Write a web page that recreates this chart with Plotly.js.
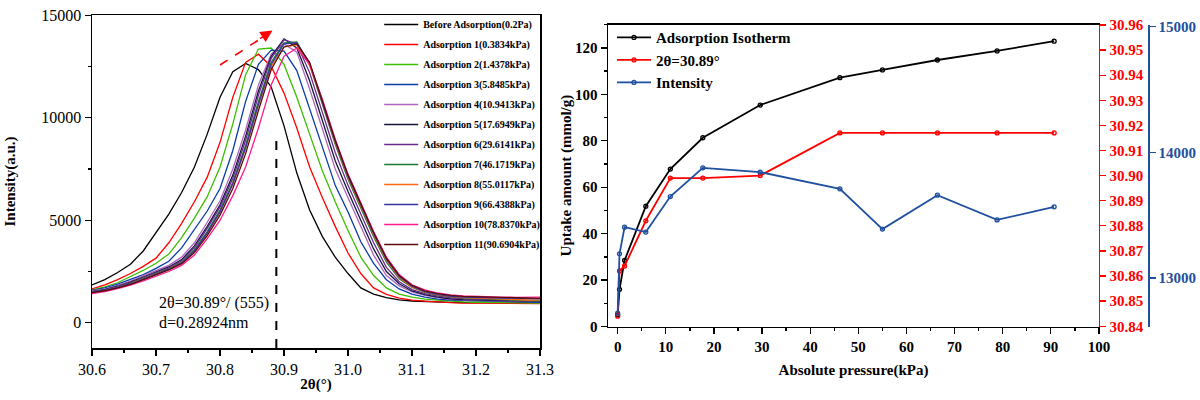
<!DOCTYPE html>
<html>
<head>
<meta charset="utf-8">
<script src="https://cdn.plot.ly/plotly-3.0.1.min.js"></script>
<style>html,body{margin:0;padding:0;background:#fff;}#chart{width:1200px;height:400px;}</style>
</head>
<body>
<div id="chart"></div>
<script>
// ---------- Left panel: XRD (555) peak ----------
const twoTheta = [30.60,30.62,30.64,30.66,30.68,30.70,30.72,30.74,30.76,30.78,30.80,30.82,30.84,30.86,30.88,30.90,30.92,30.94,30.96,30.98,31.00,31.02,31.04,31.06,31.08,31.10,31.12,31.14,31.16,31.18,31.20,31.22,31.24,31.26,31.28,31.30];

const beforeAds = [1850,2100,2450,2850,3500,4400,5300,6350,7600,9200,11000,12250,12650,12350,11500,9600,7300,5500,4200,3200,2400,1700,1400,1230,1120,1060,1030,1000,990,980,980,990,990,1000,1000,1010];
const ads1 = [1650,1850,2100,2400,2750,3150,3900,4850,5900,7100,8800,11000,12700,13100,12500,11200,9500,7600,6100,4700,3400,2400,1700,1380,1200,1100,1050,1000,980,960,950,950,940,930,920,930];
const ads2 = [1600,1750,1950,2250,2550,2900,3350,4150,5100,6150,7600,9700,12100,13350,13400,12600,11000,9200,7400,5900,4500,3200,2300,1700,1400,1250,1150,1100,1050,1020,1000,990,980,970,970,960];
const ads3 = [1580,1700,1880,2100,2350,2650,3000,3650,4550,5450,6550,8400,10800,12600,13300,13250,12300,10400,8500,6700,5400,3950,2900,2100,1650,1400,1250,1150,1100,1080,1060,1040,1020,1000,990,990];
const ads4 = [1550,1650,1820,2030,2300,2550,2800,3200,3900,4900,5950,7500,9400,11600,13100,13600,13200,11400,9400,7500,6100,4700,3300,2300,1800,1500,1330,1220,1150,1120,1100,1080,1060,1050,1040,1040];
const ads5 = [1520,1620,1780,1980,2230,2480,2720,3080,3750,4700,5750,7200,9100,11300,13000,13850,13400,11800,9800,7900,6400,5000,3600,2500,1900,1550,1370,1250,1170,1130,1110,1090,1070,1060,1050,1050];
const ads6 = [1500,1600,1760,1950,2200,2450,2680,3020,3650,4600,5650,7050,8900,11100,12900,13800,13600,12200,10300,8300,6700,5300,3900,2700,2000,1620,1420,1300,1220,1180,1150,1120,1100,1080,1060,1060];
const ads7 = [1500,1590,1740,1920,2150,2400,2640,2960,3550,4450,5500,6850,8650,10800,12700,13650,13700,12600,10700,8700,7000,5600,4200,2950,2150,1720,1480,1350,1260,1210,1180,1150,1120,1100,1080,1070];
const ads8 = [1480,1570,1720,1900,2130,2380,2620,2920,3480,4350,5400,6750,8500,10600,12500,13450,13550,12550,10750,8800,7100,5700,4300,3050,2200,1750,1500,1370,1280,1230,1200,1170,1150,1130,1110,1100];
const ads9 = [1490,1580,1720,1890,2120,2370,2610,2920,3500,4380,5420,6780,8550,10650,12600,13600,13650,12650,10800,8850,7150,5750,4350,3100,2250,1780,1520,1380,1290,1250,1230,1210,1190,1180,1170,1160];
const ads10 = [1420,1520,1660,1830,2040,2270,2500,2800,3300,4100,5000,6200,7600,9500,11600,13000,13400,12600,10900,8950,7250,5850,4450,3200,2350,1850,1600,1450,1360,1310,1280,1260,1250,1240,1240,1250];
const ads11 = [1470,1560,1700,1870,2100,2340,2580,2880,3420,4250,5250,6550,8250,10350,12350,13450,13600,12700,10850,8900,7200,5800,4400,3150,2300,1820,1560,1420,1330,1290,1270,1250,1230,1210,1200,1190];

const xrdNames = ['Before Adsorption(0.2Pa)','Adsorption 1(0.3834kPa)','Adsorption 2(1.4378kPa)','Adsorption 3(5.8485kPa)','Adsorption 4(10.9413kPa)','Adsorption 5(17.6949kPa)','Adsorption 6(29.6141kPa)','Adsorption 7(46.1719kPa)','Adsorption 8(55.0117kPa)','Adsorption 9(66.4388kPa)','Adsorption 10(78.8370kPa)','Adsorption 11(90.6904kPa)'];
const xrdSeries = [beforeAds, ads1, ads2, ads3, ads4, ads5, ads6, ads7, ads8, ads9, ads10, ads11];
const xrdColors = ['#000000','#ff0000','#3cbf00','#0a3ca8','#b065c0','#14143f','#6a2a8a','#1b7a34','#ff6a10','#3535a5','#ff1a8c','#5a0c0c'];

// Annotation values
const peakLine = 30.888;
const peakLineTop = 9100;
const trendStart = [30.800, 12570];
const trendEnd = [30.882, 14250];

// ---------- Right panel: isotherm ----------
const pressure = [0.0002,0.3834,1.4378,5.8485,10.9413,17.6949,29.6141,46.1719,55.0117,66.4388,78.8370,90.6904];
const uptake = [5.0,16.0,28.5,51.8,67.8,81.3,95.4,107.2,110.5,114.8,118.7,122.9];
const peakPos = [30.844,30.862,30.864,30.882,30.899,30.899,30.900,30.917,30.917,30.917,30.917,30.917];
const peakInt = [12722,13193,13405,13366,13649,13877,13843,13710,13390,13660,13463,13567];

const SERIF = 'Liberation Serif';
const BLUE = '#1f4f9f';
const RED = '#ff0000';

const traces = [];
xrdSeries.forEach((s, i) => {
  traces.push({
    x: twoTheta, y: s, type: 'scatter', mode: 'lines', name: xrdNames[i], legendgroup: 'g' + i,
    line: {color: xrdColors[i], width: 1.3}, xaxis: 'x', yaxis: 'y', legend: 'legend'
  });
});
const mk = c => ({symbol: 'circle-open', size: 4, color: c, line: {width: 1.3, color: c}});
traces.push({x: pressure, y: uptake, type: 'scatter', mode: 'lines+markers', name: 'Adsorption Isotherm',
  line: {color: '#000', width: 1.8}, marker: mk('#000'), xaxis: 'x2', yaxis: 'y2', legend: 'legend2'});
traces.push({x: pressure, y: peakPos, type: 'scatter', mode: 'lines+markers', name: '2θ=30.89°',
  line: {color: RED, width: 1.8}, marker: mk(RED), xaxis: 'x2', yaxis: 'y3', legend: 'legend2'});
traces.push({x: pressure, y: peakInt, type: 'scatter', mode: 'lines+markers', name: 'Intensity',
  line: {color: BLUE, width: 1.8}, marker: mk(BLUE), xaxis: 'x2', yaxis: 'y4', legend: 'legend2'});

const axBase = {showline: true, linecolor: '#000', linewidth: 1.5, ticks: 'outside', ticklen: 6, tickwidth: 1.3,
  tickcolor: '#000', showgrid: false, zeroline: false, automargin: false};

const layout = {
  width: 1200, height: 400, margin: {l: 0, r: 0, t: 0, b: 0},
  paper_bgcolor: '#fff', plot_bgcolor: '#fff',
  font: {family: SERIF, color: '#000'},
  xaxis: Object.assign({}, axBase, {domain: [0.0767, 0.45], range: [30.6, 31.3], dtick: 0.1, tick0: 30.6, tickformat: '.1f',
    mirror: true, anchor: 'y', tickfont: {size: 16, family: SERIF},
    minor: {dtick: 0.05, ticks: 'outside', ticklen: 3, tickcolor: '#000'},
    title: {text: '2θ(°)', font: {size: 15, family: SERIF, weight: 'bold'}, standoff: 2}}),
  yaxis: Object.assign({}, axBase, {domain: [0.13, 0.9625], range: [-1232, 15010], dtick: 5000, tick0: 0, tickformat: 'd',
    mirror: true, anchor: 'x', tickfont: {size: 16, family: SERIF},
    minor: {dtick: 2500, ticks: 'outside', ticklen: 3, tickcolor: '#000'},
    title: {text: 'Intensity(a.u.)', font: {size: 15, family: SERIF, weight: 'bold'}, standoff: 22}}),
  xaxis2: Object.assign({}, axBase, {domain: [0.5067, 0.9158], range: [-2, 100], dtick: 10, tick0: 0,
    mirror: true, anchor: 'y2', tickfont: {size: 15, family: SERIF, weight: 'bold'},
    minor: {dtick: 5, ticks: 'outside', ticklen: 3, tickcolor: '#000'},
    title: {text: 'Absolute pressure(kPa)', font: {size: 15, family: SERIF, weight: 'bold'}, standoff: 10}}),
  yaxis2: Object.assign({}, axBase, {domain: [0.18375, 0.93825], range: [0, 130], dtick: 20, tick0: 0,
    anchor: 'x2', tickfont: {size: 15, family: SERIF, weight: 'bold'},
    minor: {dtick: 10, ticks: 'outside', ticklen: 3, tickcolor: '#000'},
    title: {text: 'Uptake amount (mmol/g)', font: {size: 15, family: SERIF, weight: 'bold'}, standoff: 0}}),
  yaxis3: Object.assign({}, axBase, {overlaying: 'y2', side: 'right', anchor: 'x2', range: [30.8399, 30.9601],
    dtick: 0.01, tick0: 30.84, tickformat: '.2f', linecolor: RED, tickcolor: RED,
    tickfont: {size: 15, family: SERIF, weight: 'bold', color: RED}}),
  yaxis4: Object.assign({}, axBase, {overlaying: 'y2', side: 'right', anchor: 'free', position: 0.9567,
    range: [12615, 15016], tickvals: [13000, 14000, 15000], tickformat: 'd', linecolor: BLUE, tickcolor: BLUE,
    tickfont: {size: 15, family: SERIF, weight: 'bold', color: BLUE}}),
  legend: {x: 0.316, y: 0.975, xanchor: 'left', yanchor: 'top', bgcolor: 'rgba(0,0,0,0)',
    font: {size: 10, family: SERIF, weight: 'bold', color: '#000'}, tracegroupgap: 1, itemwidth: 34},
  legend2: {x: 0.51, y: 0.947, xanchor: 'left', yanchor: 'top', bgcolor: 'rgba(0,0,0,0)',
    font: {size: 15, family: SERIF, weight: 'bold', color: '#000'}, tracegroupgap: 0, itemwidth: 34},
  shapes: [
    {type: 'line', xref: 'x', yref: 'y', x0: peakLine, x1: peakLine, y0: -1232, y1: peakLineTop,
      line: {color: '#000', width: 2, dash: 'dash'}},
    {type: 'line', xref: 'x', yref: 'y', x0: trendStart[0], y0: trendStart[1], x1: trendEnd[0] - 0.014, y1: trendEnd[1] - 300,
      line: {color: RED, width: 1.6, dash: 'dash'}}
  ],
  annotations: [
    {xref: 'x', yref: 'y', x: trendEnd[0], y: trendEnd[1], ax: -14, ay: 9, text: '', showarrow: true,
      arrowhead: 2, arrowsize: 1.5, arrowwidth: 1.6, arrowcolor: RED},
    {xref: 'x', yref: 'y', x: 30.7016, y: 976, xanchor: 'left', yanchor: 'middle', showarrow: false,
      text: '2θ=30.89°/ (555)', font: {size: 16, family: SERIF, color: '#000'}},
    {xref: 'x', yref: 'y', x: 30.7016, y: 0, xanchor: 'left', yanchor: 'middle', showarrow: false,
      text: 'd=0.28924nm', font: {size: 16, family: SERIF, color: '#000'}}
  ],
  showlegend: true
};

Plotly.newPlot('chart', traces, layout, {staticPlot: true, displayModeBar: false});
</script>
</body>
</html>
